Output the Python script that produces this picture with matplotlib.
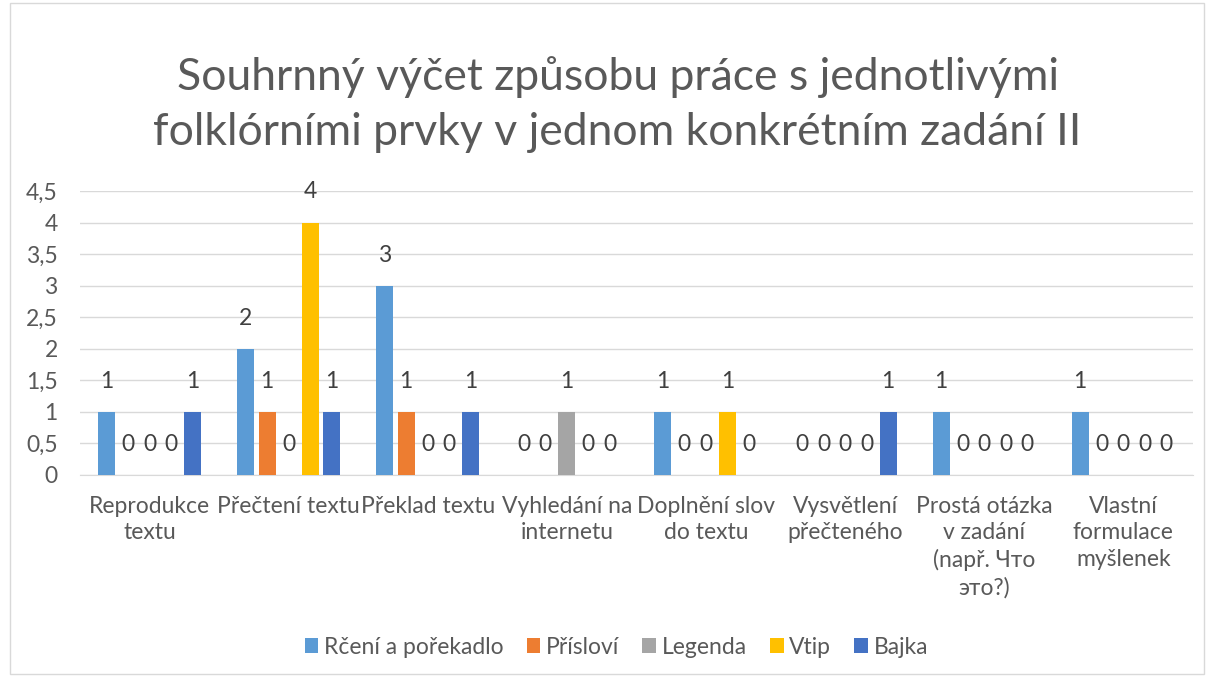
import numpy as np
import matplotlib
matplotlib.use('Agg')
import matplotlib.pyplot as plt
from matplotlib.ticker import FuncFormatter, MultipleLocator
from matplotlib.patches import Rectangle

plt.rcParams['font.family'] = ['Lato', 'DejaVu Sans']

# data
categories = ['Reprodukce\ntextu', 'Přečtení textu', 'Překlad textu',
              'Vyhledání na\ninternetu', 'Doplnění slov\ndo textu',
              'Vysvětlení\npřečteného', 'Prostá otázka\nv zadání\n(např. Что\nэто?)',
              'Vlastní\nformulace\nmyšlenek']
series_names = ['Rčení a pořekadlo', 'Přísloví', 'Legenda', 'Vtip', 'Bajka']
rceni = [1, 2, 3, 0, 1, 0, 1, 1]
prislovi = [0, 1, 1, 0, 0, 0, 0, 0]
legenda = [0, 0, 0, 1, 0, 0, 0, 0]
vtip = [0, 4, 0, 0, 1, 0, 0, 0]
bajka = [1, 1, 1, 0, 0, 1, 0, 0]
colors = ['#5B9BD5', '#ED7D31', '#A5A5A5', '#FFC000', '#4472C4']

title = 'Souhrnný výčet způsobu práce s jednotlivými\nfolklórními prvky v jednom konkrétním zadání II'

txt = '#595959'
fs = 16.5
fig = plt.figure(figsize=(12.11, 6.77), dpi=100)
ax = fig.add_axes([0.066, 0.2984, 0.919, 0.4195])

x = np.arange(len(categories))
step = 0.155
width = 0.122
all_series = [rceni, prislovi, legenda, vtip, bajka]
for i, (vals, name, c) in enumerate(zip(all_series, series_names, colors)):
    pos = x + (i - 2) * step
    ax.bar(pos, vals, width, color=c, label=name, zorder=3)
    for px, v in zip(pos, vals):
        ax.annotate(str(v), (px, v), xytext=(0, 22), textcoords='offset points',
                    ha='center', va='center', fontsize=fs, color='#404040')

ax.set_xlim(-0.5, len(categories) - 0.5)
ax.set_ylim(0, 4.5)
ax.yaxis.set_major_locator(MultipleLocator(0.5))
ax.yaxis.set_major_formatter(FuncFormatter(lambda v, p: ('%g' % v).replace('.', ',')))
ax.grid(axis='y', color='#D9D9D9', linewidth=1, zorder=0)
for s in ['top', 'right', 'left']:
    ax.spines[s].set_visible(False)
ax.spines['bottom'].set_color('#D9D9D9')
ax.tick_params(axis='both', length=0, labelsize=fs, colors=txt)
ax.tick_params(axis='y', pad=16)
ax.tick_params(axis='x', pad=15)
ax.set_xticks(x)
ax.set_xticklabels(categories, linespacing=1.32)

fig.text(0.51, 0.846, title, ha='center', va='center', fontsize=32, color=txt,
         linespacing=1.43)

leg = fig.legend(loc='center', bbox_to_anchor=(0.509, 0.044), ncol=5, frameon=False,
                 fontsize=fs, handlelength=0.6, handleheight=0.6, handletextpad=0.25,
                 columnspacing=1.0)
for t in leg.get_texts():
    t.set_color(txt)

fig.patches.append(Rectangle((0.008, 0.005), 0.986, 0.99, transform=fig.transFigure,
                             fill=False, edgecolor='#D9D9D9', linewidth=1))

fig.savefig('out.png', dpi=100, facecolor='white')
